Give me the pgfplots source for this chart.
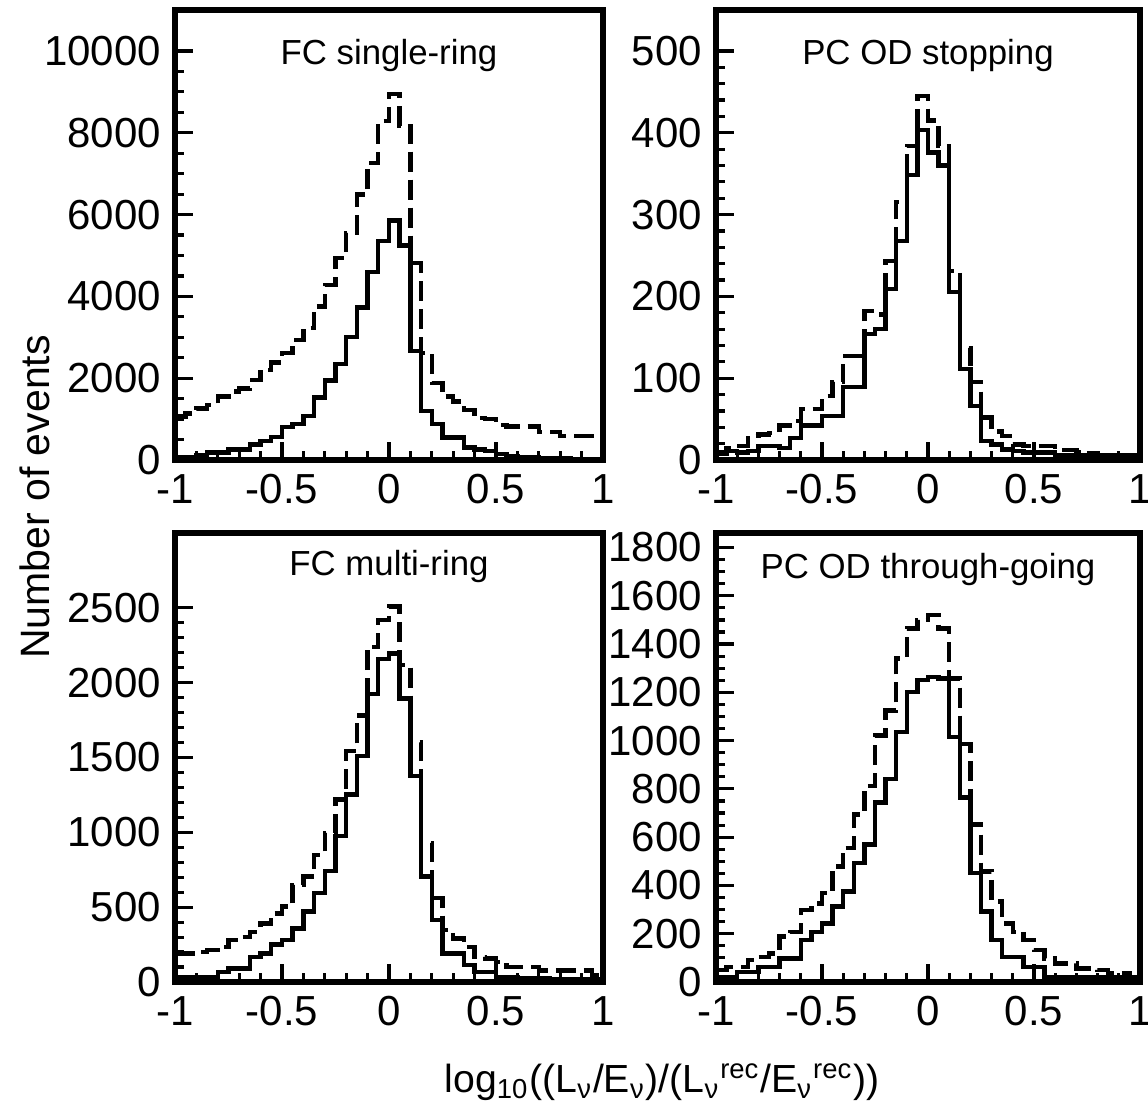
\documentclass[border=0pt]{standalone}
\usepackage{fontspec}
\setmainfont{Liberation Sans}
\usepackage{pgfplots}
\usepackage{pgfplotstable}
\pgfplotsset{compat=1.18}

\pgfplotstableread{
x s d
-1.00 60 1060
-0.95 60 1140
-0.90 120 1260
-0.85 180 1350
-0.80 180 1550
-0.75 260 1670
-0.70 260 1750
-0.65 380 1960
-0.60 470 2200
-0.55 560 2380
-0.50 800 2610
-0.45 880 2940
-0.40 1080 3220
-0.35 1530 3750
-0.30 1940 4280
-0.25 2350 4940
-0.20 3000 5550
-0.15 3730 6490
-0.10 4590 7260
-0.05 5360 8280
0.00 5850 8950
0.05 5240 8160
0.10 2670 4810
0.15 1200 2610
0.20 880 1880
0.25 550 1550
0.30 550 1430
0.35 310 1220
0.40 260 1020
0.45 220 1000
0.50 140 860
0.55 100 820
0.60 60 820
0.65 60 820
0.70 50 690
0.75 40 690
0.80 40 590
0.85 30 590
0.90 30 590
0.95 30 590
1.00 30 590
}\tabTL

\pgfplotstableread{
x s d
-1.00 7 9
-0.95 11 15
-0.90 9 17
-0.85 11 29
-0.80 17 31
-0.75 17 33
-0.70 15 42
-0.65 27 48
-0.60 42 62
-0.55 42 62
-0.50 54 78
-0.45 54 95
-0.40 89 127
-0.35 89 127
-0.30 154 182
-0.25 160 178
-0.20 209 243
-0.15 268 315
-0.10 348 384
-0.05 403 445
0.00 376 415
0.05 360 384
0.10 205 231
0.15 111 137
0.20 66 95
0.25 23 52
0.30 19 35
0.35 13 29
0.40 11 19
0.45 9 17
0.50 9 17
0.55 9 17
0.60 6 12
0.65 6 12
0.70 6 10
0.75 6 8
0.80 6 5
0.85 6 5
0.90 6 5
0.95 6 5
1.00 6 5
}\tabTR

\pgfplotstableread{
x s d
-1.00 34 190
-0.95 34 190
-0.90 34 200
-0.85 34 215
-0.80 67 235
-0.75 90 280
-0.70 90 300
-0.65 168 336
-0.60 190 392
-0.55 250 459
-0.50 280 504
-0.45 358 650
-0.40 470 705
-0.35 594 850
-0.30 740 997
-0.25 974 1220
-0.20 1254 1545
-0.15 1510 1780
-0.10 1926 2240
-0.05 2160 2420
0.00 2195 2510
0.05 1893 2117
0.10 1378 1600
0.15 706 930
0.20 414 560
0.25 190 347
0.30 190 291
0.35 112 235
0.40 67 168
0.45 67 157
0.50 34 134
0.55 34 100
0.60 25 100
0.65 25 100
0.70 25 78
0.75 22 78
0.80 22 78
0.85 22 78
0.90 22 78
0.95 22 45
1.00 22 45
}\tabBL

\pgfplotstableread{
x s d
-1.00 21 49
-0.95 21 62
-0.90 42 62
-0.85 42 90
-0.80 62 104
-0.75 62 118
-0.70 97 188
-0.65 97 208
-0.60 174 299
-0.55 208 326
-0.50 243 368
-0.45 312 479
-0.40 375 556
-0.35 493 694
-0.30 569 812
-0.25 743 1021
-0.20 840 1125
-0.15 1035 1340
-0.10 1201 1465
-0.05 1250 1500
0.00 1264 1521
0.05 1257 1465
0.10 1014 1257
0.15 764 986
0.20 451 653
0.25 292 458
0.30 174 333
0.35 104 243
0.40 104 208
0.45 62 174
0.50 62 132
0.55 21 97
0.60 21 76
0.65 21 76
0.70 21 56
0.75 21 56
0.80 21 49
0.85 21 35
0.90 21 35
0.95 21 21
1.00 21 21
}\tabBR

\pgfplotsset{
  panel/.style={
    scale only axis, width=107pt, height=112.5pt,
    anchor=north west,
    xmin=-1, xmax=1, ymin=0,
    xtick={-1,-0.5,0,0.5,1},
    xticklabels={-1,-0.5,0,0.5,1},
    minor x tick num=4,
    tick pos=left, tick align=inside,
    major tick length=4.5pt, minor tick length=2.2pt,
    every tick/.style={line width=0.8pt, black},
    axis line style={line width=1.5pt},
    tick label style={font=\fontsize{10.5}{12}\selectfont},
    /pgf/number format/assume math mode=true,
    /pgf/number format/1000 sep={},
    scaled y ticks=false,
  },
  sol/.style={const plot, black, line width=1.1pt, mark=none},
  das/.style={const plot, black, line width=1.1pt, dash pattern=on 5pt off 2pt, mark=none},
}

\begin{document}
\begin{tikzpicture}
\path[use as bounding box] (0pt,0pt) rectangle (287pt,-276.5pt);

\begin{axis}[panel, at={(43.75pt,-2.5pt)}, ymax=11000,
  ytick={0,2000,4000,6000,8000,10000}, minor y tick num=3]
\addplot[das] table[x=x,y=d] {\tabTL};
\addplot[sol] table[x=x,y=s] {\tabTL};
\node[font=\fontsize{8.7}{10}\selectfont] at (axis description cs:0.5,0.9) {FC single-ring};
\end{axis}

\begin{axis}[panel, width=106pt, at={(179pt,-2.5pt)}, ymax=550,
  ytick={0,100,200,300,400,500}, minor y tick num=4]
\addplot[das] table[x=x,y=d] {\tabTR};
\addplot[sol] table[x=x,y=s] {\tabTR};
\node[font=\fontsize{8.7}{10}\selectfont] at (axis description cs:0.5,0.9) {PC OD stopping};
\end{axis}

\begin{axis}[panel, height=112.25pt, at={(43.75pt,-133.25pt)}, ymax=3000,
  ytick={0,500,1000,1500,2000,2500}, minor y tick num=4]
\addplot[das] table[x=x,y=d] {\tabBL};
\addplot[sol] table[x=x,y=s] {\tabBL};
\node[font=\fontsize{8.7}{10}\selectfont] at (axis description cs:0.5,0.925) {FC multi-ring};
\end{axis}

\begin{axis}[panel, width=106pt, height=112.25pt, at={(179pt,-133.25pt)}, ymax=1860,
  ytick={0,200,400,600,800,1000,1200,1400,1600,1800}, minor y tick num=3]
\addplot[das] table[x=x,y=d] {\tabBR};
\addplot[sol] table[x=x,y=s] {\tabBR};
\node[font=\fontsize{8.7}{10}\selectfont] at (axis description cs:0.5,0.918) {PC OD through-going};
\end{axis}

\node[rotate=90, font=\fontsize{10.25}{12}\selectfont] at (8.75pt,-124.25pt) {Number of events};
\node[font=\fontsize{9.8}{12}\selectfont] at (165.5pt,-270.5pt)
  {log\textsubscript{10}((L\textsubscript{ν}/E\textsubscript{ν})/(L\textsubscript{ν}\textsuperscript{rec}/E\textsubscript{ν}\textsuperscript{rec}))};
\end{tikzpicture}
\end{document}
